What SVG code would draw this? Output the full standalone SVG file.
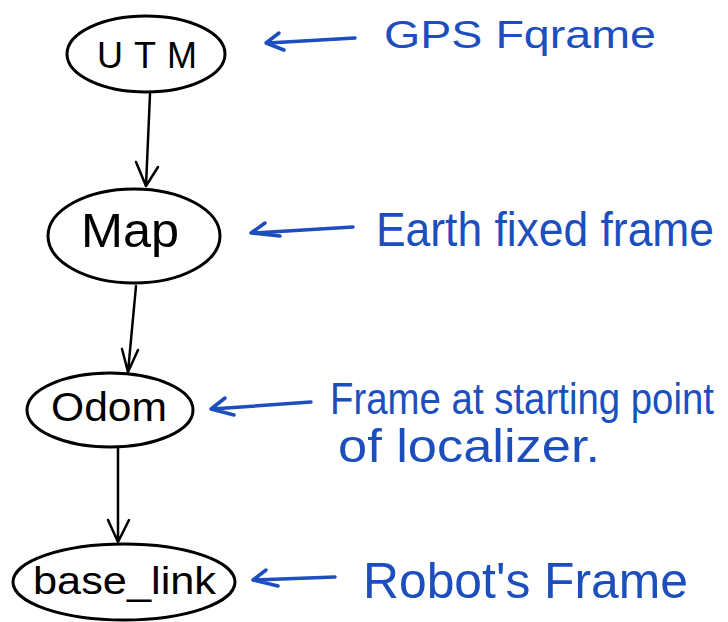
<svg xmlns="http://www.w3.org/2000/svg" width="728" height="622" viewBox="0 0 728 622">
<style>
.node ellipse{fill:#fff;stroke:#000;stroke-width:3}
.node text{font-family:"Liberation Sans",Arial,sans-serif;fill:#000}
.edge{fill:none;stroke:#000;stroke-width:2.5;stroke-linecap:round;stroke-linejoin:round}
.note{fill:none;stroke:#1c4fbd;stroke-width:3.5;stroke-linecap:round;stroke-linejoin:round}
.lbl{font-family:"Liberation Sans",Arial,sans-serif;fill:#1c4fbd}
</style>
<rect width="728" height="622" fill="#fff"/>
<g id="connectors">
  <path class="edge" d="M150,94 L146,186 M136,162 L146,186 L158,167"/>
  <path class="edge" d="M136,286 L128,372 M122,349 L128,372 L138,350"/>
  <path class="edge" d="M118,448 L118,542 M108,520 L118,542 L129,520"/>
</g>
<g id="annotations">
  <path class="note" d="M355,38 L268,43 M279,33 L266,43 L284,50"/>
  <path class="note" d="M353,227 L252,233 M265,223 L251,233 L280,236"/>
  <path class="note" d="M311,402 L212,409 M225,398 L211,409 L234,415"/>
  <path class="note" d="M335,577 L254,580 M266,570 L253,580 L278,586"/>
</g>
<g id="UTM" class="node">
  <ellipse cx="146" cy="54" rx="79" ry="38"/>
  <text x="97" y="68" font-size="36" textLength="100" lengthAdjust="spacing">UTM</text>
</g>
<g id="Map" class="node">
  <ellipse cx="134" cy="236" rx="86" ry="47"/>
  <text x="81" y="247" font-size="48" textLength="98" lengthAdjust="spacingAndGlyphs">Map</text>
</g>
<g id="Odom" class="node">
  <ellipse cx="110" cy="410" rx="83" ry="37"/>
  <text x="51" y="421" font-size="40" textLength="116" lengthAdjust="spacingAndGlyphs">Odom</text>
</g>
<g id="base_link" class="node">
  <ellipse cx="124" cy="582" rx="111" ry="38"/>
  <text x="33" y="594" font-size="38" textLength="183" lengthAdjust="spacingAndGlyphs">base_link</text>
</g>
<g id="labels">
  <text class="lbl" x="384" y="48" font-size="38" textLength="272" lengthAdjust="spacingAndGlyphs">GPS  Fqrame</text>
  <text class="lbl" transform="translate(376,246) scale(1,1.1)" font-size="44" textLength="338" lengthAdjust="spacingAndGlyphs">Earth fixed frame</text>
  <text class="lbl" transform="translate(330,414) scale(1,1.15)" font-size="38" textLength="384" lengthAdjust="spacingAndGlyphs">Frame at starting point</text>
  <text class="lbl" x="338" y="462" font-size="46" textLength="262" lengthAdjust="spacingAndGlyphs">of localizer.</text>
  <text class="lbl" x="363" y="598" font-size="50" textLength="325" lengthAdjust="spacingAndGlyphs">Robot's Frame</text>
</g>
</svg>
